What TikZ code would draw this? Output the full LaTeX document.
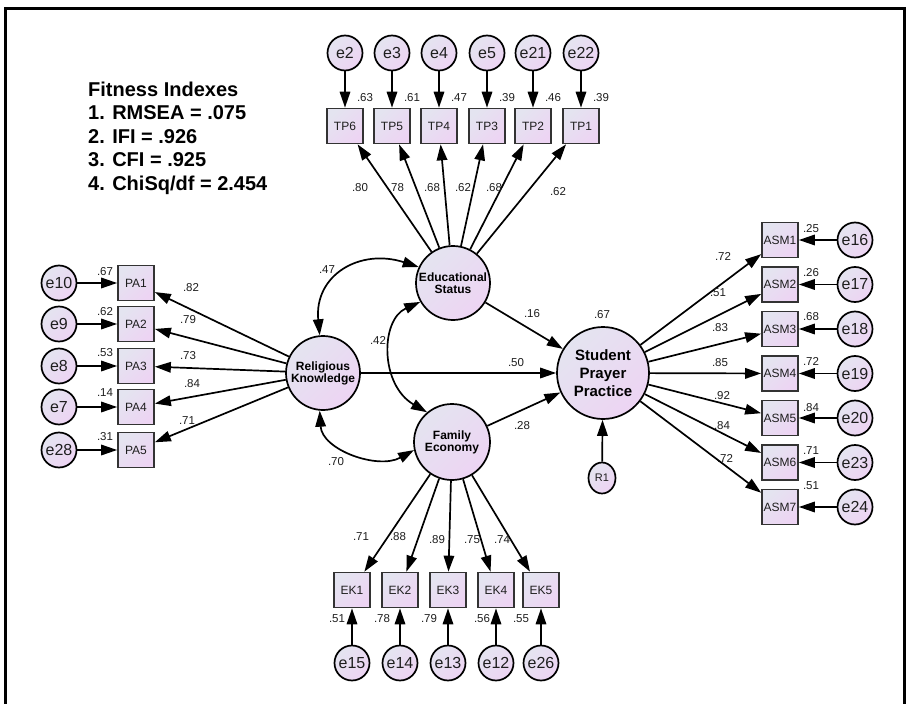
\documentclass[tikz,border=0pt]{standalone}
\usepackage{fontspec}
\setmainfont{Liberation Sans}
\usetikzlibrary{arrows.meta,shapes.geometric}
\definecolor{fillA}{RGB}{228,228,240}
\definecolor{fillB}{RGB}{237,212,243}
\definecolor{txt}{RGB}{30,30,30}
\begin{document}
\begin{tikzpicture}[x=1pt,y=-1pt,
 shadefill/.style={top color=fillA, bottom color=fillB, shading angle=45},
 latent/.style={circle, draw=black, line width=1.7pt, shadefill, inner sep=0pt, align=center, text=black, font=\fontsize{12}{14}\selectfont\bfseries},
 errc/.style={circle, draw=black, line width=1.7pt, shadefill, minimum size=35pt, inner sep=0pt, font=\fontsize{16}{18}\selectfont, text=txt},
 obs/.style={rectangle, draw=black!80, line width=1.7pt, shadefill, minimum width=36pt, minimum height=35pt, inner sep=0pt, font=\fontsize{12}{14}\selectfont, text=txt},
 num/.style={font=\fontsize{11.5}{13}\selectfont, text=txt, inner sep=0pt},
 arr/.style={line width=1.7pt, -{Triangle[length=16pt,width=10.5pt]}},
 darr/.style={line width=1.7pt, {Triangle[length=16pt,width=10.5pt]}-{Triangle[length=16pt,width=10.5pt]}},
 fitline/.style={font=\fontsize{20}{23}\selectfont\bfseries, anchor=base west, inner sep=0pt, text=black}
]
\useasboundingbox (0,0) rectangle (906,704);
\fill[white] (0,0) rectangle (906,704);
\draw[line width=3pt] (5.5,720) -- (5.5,8.5) -- (904,8.5) -- (904,720);

% fitness text
\node[fitline] (f1) at (88,96) {Fitness Indexes};
\node[fitline] (f2) at (88,119.5) {1. RMSEA = .075};
\node[fitline] (f3) at (88,143) {2. IFI = .926};
\node[fitline] (f4) at (88,166.5) {3. CFI = .925};
\node[fitline] (f5) at (88,190) {4. ChiSq/df = 2.454};

% latent variables
\node[latent, minimum size=74pt] (ES) at (453,283) {Educational\\[-2pt]Status};
\node[latent, minimum size=74pt] (RK) at (323,373) {Religious\\[-2pt]Knowledge};
\node[latent, minimum size=76pt] (FE) at (452,442) {Family\\[-2pt]Economy};
\node[latent, minimum size=92pt, font=\fontsize{15}{18}\selectfont\bfseries] (SPP) at (603,373) {Student\\Prayer\\Practice};
\node[ellipse, draw=black, line width=1.7pt, shadefill, minimum width=27pt, minimum height=31pt, inner sep=0pt, font=\fontsize{11}{13}\selectfont, text=txt] (R1) at (602,478) {R1};

% TP indicators
\foreach \n/\e/\x/\r in {TP6/e2/345/.63, TP5/e3/392/.61, TP4/e4/439/.47, TP3/e5/487/.39, TP2/e21/533/.46, TP1/e22/581/.39}{
  \node[obs] (\n) at (\x,126) {\n};
  \node[errc] (\e) at (\x,53) {\e};
  \draw[arr] (\e) -- (\n);
  \draw[arr] (ES) -- (\n);
  \node[num] (r\n) at (\x+20,98) {\r};
}
\node[num] (lTP6) at (360,188) {.80};
\node[num] (lTP5) at (396,188) {.78};
\node[num] (lTP4) at (432,188) {.68};
\node[num] (lTP3) at (463,188) {.62};
\node[num] (lTP2) at (494,188) {.68};
\node[num] (lTP1) at (558,192) {.62};

% PA indicators
\foreach \n/\e/\y/\r/\ly/\l/\lx/\lyy in {PA1/e10/283/.67/272/.82/191/288, PA2/e9/324/.62/312/.79/188/320, PA3/e8/366/.53/353/.73/188/356, PA4/e7/407/.14/393/.84/192/384, PA5/e28/450/.31/437/.71/187/421}{
  \node[obs] (\n) at (136,\y) {\n};
  \node[errc] (\e) at (59,\y) {\e};
  \draw[arr] (\e) -- (\n);
  \draw[arr] (RK) -- (\n);
  \node[num] (r\n) at (105,\ly) {\r};
  \node[num] (l\n) at (\lx,\lyy) {\l};
}

% ASM indicators
\foreach \n/\e/\y/\r/\ry/\l/\lx/\ly in {ASM1/e16/240/.25/229/.72/723/256, ASM2/e17/284.5/.26/273/.51/718/293, ASM3/e18/329/.68/317/.83/720/328, ASM4/e19/373.5/.72/361/.85/720/363, ASM5/e20/418/.84/408/.92/722/396, ASM6/e23/462.5/.71/451/.84/722/426, ASM7/e24/507/.51/486/.72/725/458}{
  \node[obs] (\n) at (780,\y) {\n};
  \node[errc] (\e) at (855,\y) {\e};
  \draw[arr] (\e) -- (\n);
  \draw[arr] (SPP) -- (\n);
  \node[num] (r\n) at (811,\ry) {\r};
  \node[num] (l\n) at (\lx,\ly) {\l};
}

% EK indicators
\foreach \n/\e/\x/\r/\rx/\l/\lx/\ly in {EK1/e15/352/.51/337/.71/361/537, EK2/e14/400/.78/382/.88/398/537, EK3/e13/448/.79/429/.89/437/540, EK4/e12/496/.56/482/.75/472/540, EK5/e26/541/.55/521/.74/502/540}{
  \node[obs] (\n) at (\x,590) {\n};
  \node[errc] (\e) at (\x,663) {\e};
  \draw[arr] (\e) -- (\n);
  \draw[arr] (FE) -- (\n);
  \node[num] (r\n) at (\rx,619) {\r};
  \node[num] (l\n) at (\lx,\ly) {\l};
}

% structural paths
\draw[arr] (RK) -- (SPP);
\draw[arr] (ES) -- (SPP);
\draw[arr] (FE) -- (SPP);
\draw[arr] (R1) -- (SPP);
\node[num] (lRS) at (516,363) {.50};
\node[num] (lES) at (532,314) {.16};
\node[num] (lFS) at (522,426) {.28};
\node[num] (r2) at (602,315) {.67};

% covariances
\draw[darr] (RK.95) .. controls (314,275) and (360,248) .. (ES.155);
\draw[darr] (ES.210) .. controls (380,320) and (380,385) .. (FE.130);
\draw[darr] (RK.265) .. controls (322,450) and (378,470) .. (FE.192);
\node[num] (c1) at (327,270) {.47};
\node[num] (c2) at (378,340) {.42};
\node[num] (c3) at (336,462) {.70};
\end{tikzpicture}
\end{document}
